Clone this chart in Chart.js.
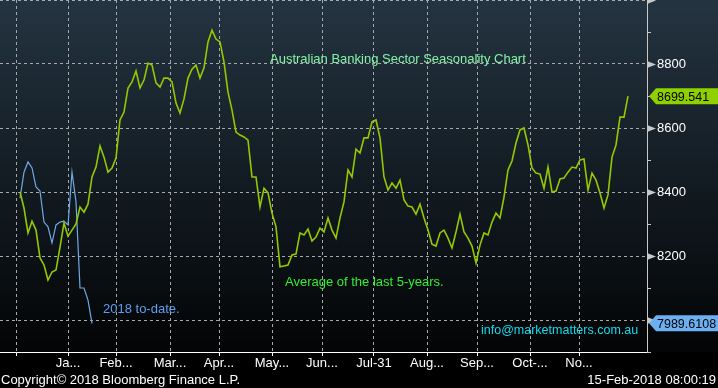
<!DOCTYPE html>
<html>
<head>
<meta charset="utf-8">
<title>Australian Banking Sector Seasonality Chart</title>
<script src="https://cdn.jsdelivr.net/npm/chart.js@4.4.1/dist/chart.umd.min.js"></script>
<style>
  html, body { margin: 0; padding: 0; background: #000; }
  canvas { display: block; }
</style>
</head>
<body>
<canvas id="seasonality-chart" width="718" height="388"></canvas>
<script>
// Average of the last 5 years, sampled roughly every 1.6 trading days
const averageFiveYears = [
  8400, 8350, 8272, 8309, 8281, 8194, 8172, 8125, 8150, 8156,
  8228, 8303, 8262, 8281, 8300, 8353, 8337, 8362, 8447, 8478,
  8544, 8509, 8462, 8475, 8506, 8625, 8650, 8725, 8744, 8778,
  8725, 8750, 8803, 8797, 8741, 8728, 8756, 8756, 8744, 8678,
  8647, 8691, 8756, 8784, 8797, 8756, 8788, 8869, 8906, 8878,
  8869, 8806, 8712, 8656, 8587, 8578, 8572, 8562, 8447, 8447,
  8353, 8412, 8397, 8334, 8291, 8166, 8169, 8172, 8203, 8206,
  8272, 8266, 8284, 8247, 8259, 8287, 8275, 8319, 8281, 8256,
  8319, 8369, 8469, 8447, 8534, 8522, 8569, 8569, 8619, 8625,
  8569, 8447, 8406, 8428, 8412, 8437, 8375, 8356, 8353, 8331,
  8362, 8319, 8281, 8237, 8231, 8272, 8281, 8256, 8225, 8275,
  8331, 8275, 8256, 8231, 8178, 8234, 8272, 8266, 8306, 8334,
  8319, 8384, 8469, 8497, 8553, 8594, 8600, 8547, 8475, 8459,
  8456, 8412, 8478, 8400, 8403, 8441, 8444, 8462, 8478, 8475,
  8500, 8503, 8406, 8459, 8437, 8397, 8350, 8391, 8509, 8547,
  8634, 8634, 8699.541
];

// 2018 to-date, same sampling
const toDate2018 = [
  8381, 8462, 8494, 8475, 8416, 8403, 8306, 8291, 8241, 8297,
  8306, 8309, 8297, 8462, 8369, 8100, 8100, 8062, 7989.6108
];

const monthTickPositions = [-1, 12, 24, 37.5, 49.75, 63, 75.5, 88.5, 101.75, 114.25, 127.5, 139.75];
const monthTickLabels = ["", "Ja...", "Feb...", "Mar...", "Apr...", "May...", "Jun...", "Jul-31", "Aug...", "Sep...", "Oct-...", "No..."];
const yTickLabels = [8200, 8400, 8600, 8800];

const FONT = "'Liberation Sans', Arial, sans-serif";

const backdrop = {
  id: "backdrop",
  beforeDraw(chart) {
    const { ctx, width, height, chartArea } = chart;
    const g = ctx.createLinearGradient(0, 0, 0, chartArea.bottom);
    g.addColorStop(0, "#243441");
    g.addColorStop(0.5, "#131c23");
    g.addColorStop(1, "#030405");
    ctx.save();
    ctx.fillStyle = "#000";
    ctx.fillRect(0, 0, width, height);
    ctx.fillStyle = g;
    ctx.fillRect(0, 0, width, chartArea.bottom);
    ctx.restore();
  },
};

function drawBadge(ctx, y, text, fill) {
  const x0 = 649;
  ctx.fillStyle = fill;
  ctx.beginPath();
  ctx.moveTo(x0, y);
  ctx.lineTo(x0 + 7, y - 8);
  ctx.lineTo(718, y - 8);
  ctx.lineTo(718, y + 8);
  ctx.lineTo(x0 + 7, y + 8);
  ctx.closePath();
  ctx.fill();
  ctx.fillStyle = "#000";
  ctx.font = "12.5px " + FONT;
  ctx.textAlign = "left";
  ctx.textBaseline = "middle";
  ctx.fillText(text, x0 + 8, y + 1);
}

const overlay = {
  id: "overlay",
  afterDraw(chart) {
    const { ctx, chartArea } = chart;
    const yScale = chart.scales.y;
    ctx.save();

    // right axis tick marks
    ctx.fillStyle = "#c8c8c8";
    ctx.strokeStyle = "#c8c8c8";
    ctx.lineWidth = 1;
    for (let v = 7900; v <= 9000; v += 100) {
      const y = Math.round(yScale.getPixelForValue(v)) + 0.5;
      if (v % 200 === 0) {
        ctx.beginPath();
        ctx.moveTo(chartArea.right, y - 3.5);
        ctx.lineTo(chartArea.right + 9, y);
        ctx.lineTo(chartArea.right, y + 3.5);
        ctx.closePath();
        ctx.fill();
      } else {
        ctx.beginPath();
        ctx.moveTo(chartArea.right, y);
        ctx.lineTo(chartArea.right + 4, y);
        ctx.stroke();
      }
    }

    // last value badges
    const lastAvg = averageFiveYears[averageFiveYears.length - 1];
    const lastYtd = toDate2018[toDate2018.length - 1];
    drawBadge(ctx, yScale.getPixelForValue(lastAvg), lastAvg.toFixed(3), "#8fd000");
    drawBadge(ctx, yScale.getPixelForValue(lastYtd), lastYtd.toFixed(4), "#6cb0f2");

    // annotations
    ctx.textBaseline = "middle";
    ctx.textAlign = "left";
    ctx.font = "13px " + FONT;
    ctx.fillStyle = "#84f2a6";
    ctx.fillText("Australian Banking Sector Seasonality Chart", 270, 59);
    ctx.fillStyle = "#2ff02f";
    ctx.fillText("Average of the last 5-years.", 285, 282);
    ctx.fillStyle = "#5d9ef0";
    ctx.fillText("2018 to-date.", 103, 309);
    ctx.font = "12.5px " + FONT;
    ctx.fillStyle = "#10dcf0";
    ctx.fillText("info@marketmatters.com.au", 481, 331);

    ctx.font = "13px " + FONT;
    ctx.fillStyle = "#ffffff";
    ctx.fillText("Copyright\u00a9 2018 Bloomberg Finance L.P.", 1, 380);
    ctx.textAlign = "right";
    ctx.fillText("15-Feb-2018 08:00:19", 716, 380);

    ctx.restore();
  },
};

const ctx = document.getElementById("seasonality-chart").getContext("2d");

new Chart(ctx, {
  type: "line",
  data: {
    datasets: [
      {
        label: "Average of the last 5-years",
        data: averageFiveYears.map((v, i) => ({ x: i, y: v })),
        borderColor: "#94c800",
        borderWidth: 1.6,
        pointRadius: 0,
        tension: 0,
      },
      {
        label: "2018 to-date",
        data: toDate2018.map((v, i) => ({ x: i, y: v })),
        borderColor: "#6fa8e2",
        borderWidth: 1.2,
        pointRadius: 0,
        tension: 0,
      },
    ],
  },
  options: {
    responsive: false,
    animation: false,
    layout: { padding: 0 },
    plugins: {
      legend: { display: false },
      tooltip: { enabled: false },
    },
    scales: {
      x: {
        type: "linear",
        min: -5,
        max: 156.75,
        afterBuildTicks: (scale) => {
          scale.ticks = monthTickPositions.map((v) => ({ value: v }));
        },
        afterFit: (scale) => {
          scale.height = 36;
          scale.paddingLeft = 0;
          scale.paddingRight = 0;
        },
        ticks: {
          callback: (value, index) => monthTickLabels[index],
          autoSkip: false,
          maxRotation: 0,
          minRotation: 0,
          color: "#ffffff",
          font: { family: FONT, size: 13 },
          padding: 0,
        },
        grid: {
          color: "#a8a8a8",
          lineWidth: 1,
          tickLength: 4,
          tickColor: "#ffffff",
          tickBorderDash: [],
        },
        border: { color: "#ffffff", width: 1, dash: [3, 3] },
      },
      y: {
        position: "right",
        min: 7900,
        max: 9000,
        afterFit: (scale) => {
          scale.width = 71;
          scale.paddingTop = 0;
          scale.paddingBottom = 0;
        },
        ticks: {
          stepSize: 100,
          callback: (value) => (yTickLabels.includes(value) ? String(value) : ""),
          color: "#ffffff",
          font: { family: FONT, size: 13 },
          padding: 10,
        },
        grid: {
          color: (c) => (c.tick && c.tick.value % 200 === 0 ? "#a8a8a8" : "rgba(0,0,0,0)"),
          lineWidth: 1,
          drawTicks: false,
        },
        border: { color: "#c8c8c8", width: 1, dash: [3, 3] },
      },
    },
  },
  plugins: [backdrop, overlay],
});
</script>
</body>
</html>
